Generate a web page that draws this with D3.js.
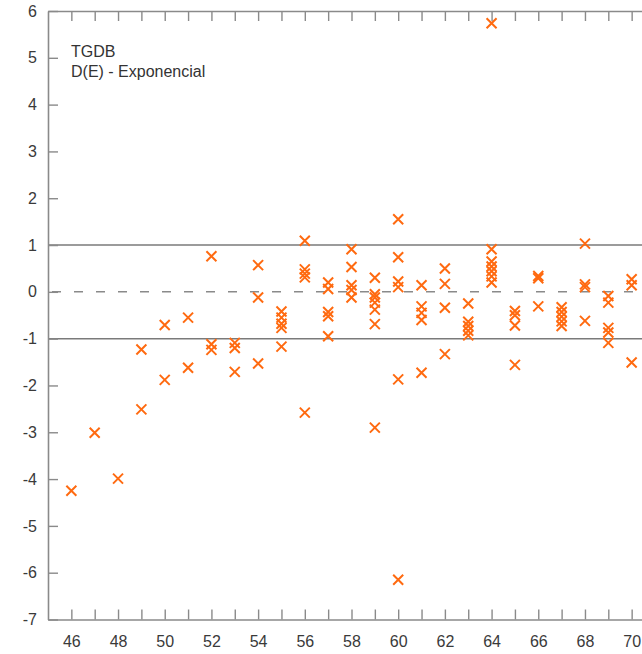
<!DOCTYPE html>
<html>
<head>
<meta charset="utf-8">
<script src="https://cdn.jsdelivr.net/npm/d3@7"></script>
<style>
  html, body { margin: 0; padding: 0; background: #fff; }
  svg { display: block; }
  .tick text { font-family: "Liberation Sans", Arial, sans-serif; font-size: 16px; fill: #3a3a3a; }
</style>
</head>
<body>
<svg id="chart" width="642" height="654"></svg>
<script>
// Age (x) and residual (y) for each observation, grouped by age
const ages = [
  46, 47, 48,
  49, 49,
  50, 50,
  51, 51,
  52, 52, 52,
  53, 53, 53,
  54, 54, 54,
  55, 55, 55, 55, 55,
  56, 56, 56, 56, 56,
  57, 57, 57, 57, 57,
  58, 58, 58, 58, 58,
  59, 59, 59, 59, 59, 59, 59,
  60, 60, 60, 60, 60, 60,
  61, 61, 61, 61, 61,
  62, 62, 62, 62,
  63, 63, 63, 63, 63,
  64, 64, 64, 64, 64, 64, 64,
  65, 65, 65, 65,
  66, 66, 66,
  67, 67, 67, 67, 67,
  68, 68, 68, 68,
  69, 69, 69, 69, 69,
  70, 70, 70
];
const residuals = [
  -4.25, -3.01, -3.99,
  -1.23, -2.51,
  -0.71, -1.88,
  -0.55, -1.62,
  0.76, -1.12, -1.24,
  -1.09, -1.20, -1.71,
  0.57, -0.12, -1.53,
  -0.42, -0.55, -0.68, -0.77, -1.17,
  1.09, 0.48, 0.39, 0.31, -2.58,
  0.20, 0.06, -0.43, -0.52, -0.95,
  0.91, 0.53, 0.14, 0.04, -0.12,
  0.30, -0.05, -0.12, -0.23, -0.38, -0.69, -2.90,
  1.55, 0.74, 0.22, 0.10, -1.87, -6.15,
  0.14, -0.31, -0.45, -0.60, -1.73,
  0.50, 0.17, -0.34, -1.33,
  -0.25, -0.64, -0.73, -0.83, -0.93,
  5.74, 0.91, 0.65, 0.54, 0.44, 0.33, 0.20,
  -0.41, -0.50, -0.72, -1.56,
  0.34, 0.29, -0.31,
  -0.33, -0.43, -0.53, -0.63, -0.73,
  1.03, 0.16, 0.10, -0.62,
  -0.09, -0.23, -0.77, -0.87, -1.09,
  0.27, 0.14, -1.51
];
const xTicks = d3.range(46, 71);        // one tick per year
const yTicks = d3.range(-7, 7);         // one tick per unit
const refLines = [1, -1];               // solid reference band
const zeroLine = [0];                   // dashed centre line
const titleLines = ["TGDB", "D(E) - Exponencial"];

const svg = d3.select("#chart");
const plotLeft = 48, plotRight = 652, plotTop = 11, plotBottom = 619.5;

const x = d3.scaleLinear().domain([45, 71]).range([plotLeft, 655]);
const y = d3.scaleLinear().domain([-7, 6]).range([plotBottom, plotTop]);

const axisColor = "#8a8a8a";

function styleAxis(g) {
  g.select(".domain").attr("stroke", axisColor).attr("stroke-width", 1.6);
  g.selectAll(".tick line").attr("stroke", axisColor).attr("stroke-width", 1.4);
}

// Reference lines
svg.append("g").selectAll("line").data(refLines).join("line")
  .attr("x1", plotLeft).attr("x2", 660)
  .attr("y1", d => y(d)).attr("y2", d => y(d))
  .attr("stroke", "#7a7a7a").attr("stroke-width", 1.5);

svg.append("g").selectAll("line").data(zeroLine).join("line")
  .attr("x1", plotLeft).attr("x2", 660)
  .attr("y1", d => y(d)).attr("y2", d => y(d))
  .attr("stroke", "#8a8a8a").attr("stroke-width", 1.5)
  .attr("stroke-dasharray", "9,13").attr("stroke-dashoffset", -4);

// Axes with inward ticks on all four sides
svg.append("g").attr("transform", `translate(0,${plotBottom})`)
  .call(d3.axisBottom(x).tickValues(xTicks).tickSize(-10).tickSizeOuter(0).tickPadding(16)
    .tickFormat(d => d % 2 === 0 ? String(d) : ""))
  .call(styleAxis);

svg.append("g").attr("transform", `translate(0,${plotTop})`)
  .call(d3.axisTop(x).tickValues(xTicks).tickSize(-10).tickSizeOuter(0).tickFormat(""))
  .call(styleAxis);

svg.append("g").attr("transform", `translate(${plotLeft},0)`)
  .call(d3.axisLeft(y).tickValues(yTicks).tickSize(-10).tickSizeOuter(0).tickPadding(11)
    .tickFormat(d => String(d)))
  .call(styleAxis);

svg.append("g").attr("transform", `translate(${plotRight},0)`)
  .call(d3.axisRight(y).tickValues(yTicks).tickSize(-10).tickSizeOuter(0).tickFormat(""))
  .call(styleAxis);

// Title lines
svg.append("g").selectAll("text").data(titleLines).join("text")
  .attr("x", 71).attr("y", (d, i) => 57 + i * 20)
  .attr("font-family", "'Liberation Sans', Arial, sans-serif")
  .attr("font-size", 16).attr("fill", "#333")
  .text(d => d);

// Residual markers drawn as crosses
const r = 5;
const pts = ages.map((a, i) => ({ a, v: residuals[i] }));
svg.append("g").selectAll("path").data(pts).join("path")
  .attr("d", d => {
    const cx = x(d.a), cy = y(d.v);
    return `M${cx - r},${cy - r}L${cx + r},${cy + r}M${cx - r},${cy + r}L${cx + r},${cy - r}`;
  })
  .attr("stroke", "#ff6a10").attr("stroke-width", 2).attr("fill", "none");
</script>
</body>
</html>
